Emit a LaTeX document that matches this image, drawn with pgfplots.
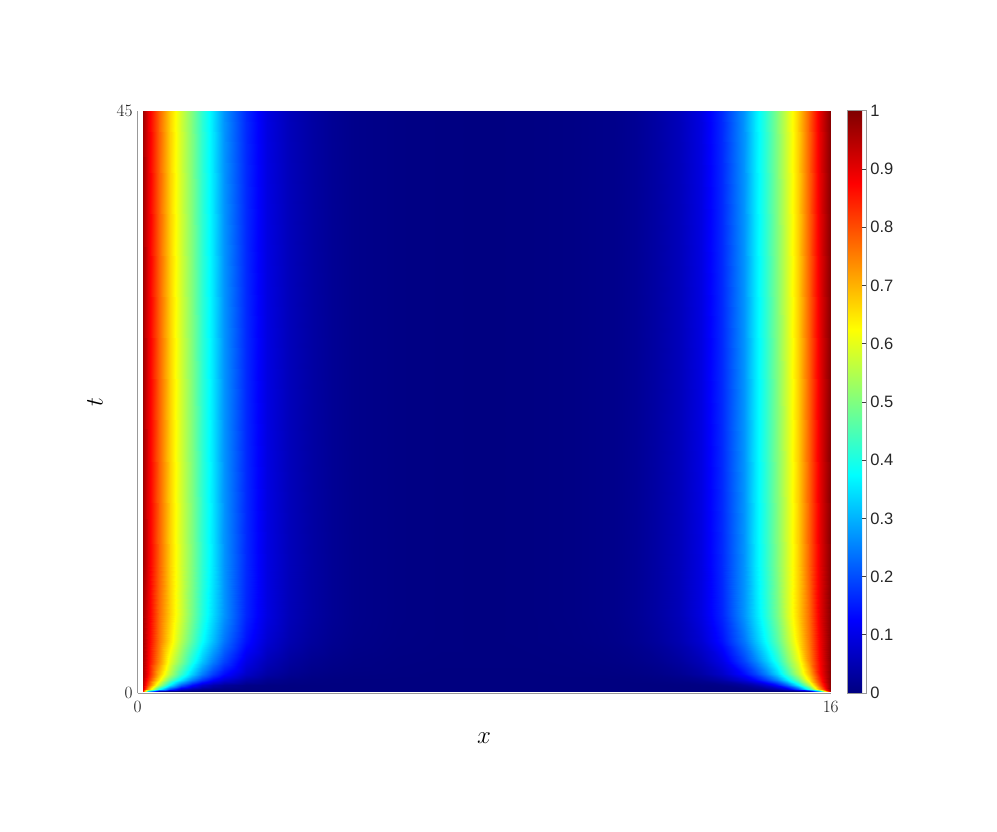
\documentclass[border=0pt]{standalone}
\usepackage{fontspec}
\usepackage{pgfplots}
\pgfplotsset{compat=1.18}
\newfontfamily\cbfont{Liberation Sans}

\begin{document}
\begin{tikzpicture}
\useasboundingbox (0,0) rectangle (997pt,831pt);
\begin{axis}[
    at={(137.5pt,138pt)}, anchor=south west,
    scale only axis, width=693.2pt, height=582.2pt,
    xmin=0, xmax=16, ymin=0, ymax=45,
    xtick={0,16}, ytick={0,45},
    axis x line*=bottom, axis y line*=left,
    axis line style={draw=black!40, line width=0.8pt},
    major tick length=0pt,
    tick label style={font=\fontsize{19}{19}\selectfont, text=black!90},
    xticklabel style={yshift=-5pt},
    yticklabel style={xshift=-1.5pt},
    xlabel={$x$}, ylabel={$t$},
    label style={font=\fontsize{24}{24}\selectfont},
    xlabel style={at={(axis description cs:0.5,-0.0864)}, anchor=base},
    ylabel style={at={(axis description cs:-0.0502,0.5)}, anchor=base},
    colormap/jet,
    point meta min=0, point meta max=1,
    colorbar,
    colorbar style={
        at={(parent axis.north east)}, anchor=north west, xshift=8.6pt,
        width=19pt,
        ytick={0,0.1,0.2,0.3,0.4,0.5,0.6,0.7,0.8,0.9,1},
        ytick pos=right, yticklabel pos=right,
        tick align=inside, major tick length=5pt,
        tick style={draw=black!75, line width=0.6pt},
        axis line style={draw=black!40, line width=0.8pt},
        yticklabel style={font=\cbfont\fontsize{16.5}{16.5}\selectfont, text=black!85,
            /pgf/number format/assume math mode=true},
    },
]
% u(x,t): one scanline per t, x from 0.125 to 16
\addplot[surf, shader=interp, mesh/cols=35, point meta=\thisrow{u}]
  table[row sep=\\, x=x, y=t] {
x t u\\
0.125 0.15 0.85\\ 0.25 0.15 0.35\\ 0.5 0.15 0.05\\ 0.75 0.15 0.008\\ 1 0.15 0.001\\ 1.25 0.15 0\\ 1.5 0.15 0\\ 1.75 0.15 0\\ 2 0.15 0\\ 2.5 0.15 0\\ 3 0.15 0\\ 3.5 0.15 0\\ 4 0.15 0\\ 4.5 0.15 0\\ 5 0.15 0\\ 6 0.15 0\\ 7 0.15 0\\ 8 0.15 0\\
9 0.15 0\\ 10 0.15 0\\ 11 0.15 0\\ 11.5 0.15 0\\ 12 0.15 0\\ 12.5 0.15 0\\ 13 0.15 0\\ 13.5 0.15 0\\ 14 0.15 0\\ 14.25 0.15 0\\ 14.5 0.15 0\\ 14.75 0.15 0\\ 15 0.15 0.001\\ 15.25 0.15 0.008\\ 15.5 0.15 0.05\\ 15.75 0.15 0.35\\ 16 0.15 1\\
0.125 0.3 0.92\\ 0.25 0.3 0.72\\ 0.5 0.3 0.40\\ 0.75 0.3 0.20\\ 1 0.3 0.09\\ 1.25 0.3 0.045\\ 1.5 0.3 0.022\\ 1.75 0.3 0.011\\ 2 0.3 0.006\\ 2.5 0.3 0.002\\ 3 0.3 0.001\\ 3.5 0.3 0\\ 4 0.3 0\\ 4.5 0.3 0\\ 5 0.3 0\\ 6 0.3 0\\ 7 0.3 0\\ 8 0.3 0\\
9 0.3 0\\ 10 0.3 0\\ 11 0.3 0\\ 11.5 0.3 0\\ 12 0.3 0\\ 12.5 0.3 0\\ 13 0.3 0.001\\ 13.5 0.3 0.002\\ 14 0.3 0.006\\ 14.25 0.3 0.011\\ 14.5 0.3 0.022\\ 14.75 0.3 0.045\\ 15 0.3 0.09\\ 15.25 0.3 0.20\\ 15.5 0.3 0.40\\ 15.75 0.3 0.72\\ 16 0.3 1\\
0.125 0.6 0.94\\ 0.25 0.6 0.80\\ 0.5 0.6 0.55\\ 0.75 0.6 0.36\\ 1 0.6 0.22\\ 1.25 0.6 0.135\\ 1.5 0.6 0.08\\ 1.75 0.6 0.045\\ 2 0.6 0.025\\ 2.5 0.6 0.008\\ 3 0.6 0.003\\ 3.5 0.6 0.001\\ 4 0.6 0\\ 4.5 0.6 0\\ 5 0.6 0\\ 6 0.6 0\\ 7 0.6 0\\ 8 0.6 0\\
9 0.6 0\\ 10 0.6 0\\ 11 0.6 0\\ 11.5 0.6 0\\ 12 0.6 0\\ 12.5 0.6 0.001\\ 13 0.6 0.003\\ 13.5 0.6 0.008\\ 14 0.6 0.025\\ 14.25 0.6 0.045\\ 14.5 0.6 0.08\\ 14.75 0.6 0.135\\ 15 0.6 0.22\\ 15.25 0.6 0.36\\ 15.5 0.6 0.55\\ 15.75 0.6 0.80\\ 16 0.6 1\\
0.125 1 0.95\\ 0.25 1 0.84\\ 0.5 1 0.64\\ 0.75 1 0.47\\ 1 1 0.35\\ 1.25 1 0.25\\ 1.5 1 0.18\\ 1.75 1 0.125\\ 2 1 0.085\\ 2.5 1 0.038\\ 3 1 0.016\\ 3.5 1 0.007\\ 4 1 0.003\\ 4.5 1 0.001\\ 5 1 0\\ 6 1 0\\ 7 1 0\\ 8 1 0\\
9 1 0\\ 10 1 0\\ 11 1 0\\ 11.5 1 0.001\\ 12 1 0.003\\ 12.5 1 0.007\\ 13 1 0.016\\ 13.5 1 0.038\\ 14 1 0.085\\ 14.25 1 0.125\\ 14.5 1 0.18\\ 14.75 1 0.25\\ 15 1 0.35\\ 15.25 1 0.47\\ 15.5 1 0.64\\ 15.75 1 0.84\\ 16 1 1\\
0.125 1.5 0.96\\ 0.25 1.5 0.87\\ 0.5 1.5 0.69\\ 0.75 1.5 0.55\\ 1 1.5 0.43\\ 1.25 1.5 0.33\\ 1.5 1.5 0.25\\ 1.75 1.5 0.185\\ 2 1.5 0.135\\ 2.5 1.5 0.07\\ 3 1.5 0.035\\ 3.5 1.5 0.017\\ 4 1.5 0.008\\ 4.5 1.5 0.004\\ 5 1.5 0.002\\ 6 1.5 0.001\\ 7 1.5 0\\ 8 1.5 0\\
9 1.5 0\\ 10 1.5 0.001\\ 11 1.5 0.002\\ 11.5 1.5 0.004\\ 12 1.5 0.008\\ 12.5 1.5 0.017\\ 13 1.5 0.035\\ 13.5 1.5 0.07\\ 14 1.5 0.135\\ 14.25 1.5 0.185\\ 14.5 1.5 0.25\\ 14.75 1.5 0.33\\ 15 1.5 0.43\\ 15.25 1.5 0.55\\ 15.5 1.5 0.69\\ 15.75 1.5 0.87\\ 16 1.5 1\\
0.125 2.5 0.965\\ 0.25 2.5 0.88\\ 0.5 2.5 0.74\\ 0.75 2.5 0.60\\ 1 2.5 0.50\\ 1.25 2.5 0.40\\ 1.5 2.5 0.32\\ 1.75 2.5 0.25\\ 2 2.5 0.19\\ 2.5 2.5 0.10\\ 3 2.5 0.055\\ 3.5 2.5 0.03\\ 4 2.5 0.016\\ 4.5 2.5 0.009\\ 5 2.5 0.005\\ 6 2.5 0.002\\ 7 2.5 0.001\\ 8 2.5 0.001\\
9 2.5 0.001\\ 10 2.5 0.002\\ 11 2.5 0.005\\ 11.5 2.5 0.009\\ 12 2.5 0.016\\ 12.5 2.5 0.03\\ 13 2.5 0.055\\ 13.5 2.5 0.10\\ 14 2.5 0.19\\ 14.25 2.5 0.25\\ 14.5 2.5 0.32\\ 14.75 2.5 0.40\\ 15 2.5 0.50\\ 15.25 2.5 0.60\\ 15.5 2.5 0.74\\ 15.75 2.5 0.88\\ 16 2.5 1\\
0.125 4 0.97\\ 0.25 4 0.89\\ 0.5 4 0.76\\ 0.75 4 0.65\\ 1 4 0.55\\ 1.25 4 0.46\\ 1.5 4 0.38\\ 1.75 4 0.31\\ 2 4 0.24\\ 2.5 4 0.14\\ 3 4 0.08\\ 3.5 4 0.047\\ 4 4 0.028\\ 4.5 4 0.016\\ 5 4 0.009\\ 6 4 0.004\\ 7 4 0.002\\ 8 4 0.001\\
9 4 0.002\\ 10 4 0.004\\ 11 4 0.009\\ 11.5 4 0.016\\ 12 4 0.028\\ 12.5 4 0.047\\ 13 4 0.08\\ 13.5 4 0.14\\ 14 4 0.24\\ 14.25 4 0.31\\ 14.5 4 0.38\\ 14.75 4 0.46\\ 15 4 0.55\\ 15.25 4 0.65\\ 15.5 4 0.76\\ 15.75 4 0.89\\ 16 4 1\\
0.125 6 0.97\\ 0.25 6 0.90\\ 0.5 6 0.77\\ 0.75 6 0.67\\ 1 6 0.58\\ 1.25 6 0.49\\ 1.5 6 0.41\\ 1.75 6 0.34\\ 2 6 0.27\\ 2.5 6 0.16\\ 3 6 0.095\\ 3.5 6 0.055\\ 4 6 0.034\\ 4.5 6 0.02\\ 5 6 0.011\\ 6 6 0.005\\ 7 6 0.002\\ 8 6 0.001\\
9 6 0.002\\ 10 6 0.005\\ 11 6 0.011\\ 11.5 6 0.02\\ 12 6 0.034\\ 12.5 6 0.055\\ 13 6 0.095\\ 13.5 6 0.16\\ 14 6 0.27\\ 14.25 6 0.34\\ 14.5 6 0.41\\ 14.75 6 0.49\\ 15 6 0.58\\ 15.25 6 0.67\\ 15.5 6 0.77\\ 15.75 6 0.90\\ 16 6 1\\
0.125 10 0.97\\ 0.25 10 0.90\\ 0.5 10 0.78\\ 0.75 10 0.67\\ 1 10 0.58\\ 1.25 10 0.50\\ 1.5 10 0.42\\ 1.75 10 0.35\\ 2 10 0.27\\ 2.5 10 0.165\\ 3 10 0.095\\ 3.5 10 0.057\\ 4 10 0.035\\ 4.5 10 0.02\\ 5 10 0.011\\ 6 10 0.005\\ 7 10 0.002\\ 8 10 0.001\\
9 10 0.002\\ 10 10 0.005\\ 11 10 0.011\\ 11.5 10 0.02\\ 12 10 0.035\\ 12.5 10 0.057\\ 13 10 0.095\\ 13.5 10 0.165\\ 14 10 0.27\\ 14.25 10 0.35\\ 14.5 10 0.42\\ 14.75 10 0.50\\ 15 10 0.58\\ 15.25 10 0.67\\ 15.5 10 0.78\\ 15.75 10 0.90\\ 16 10 1\\
0.125 45 0.97\\ 0.25 45 0.90\\ 0.5 45 0.78\\ 0.75 45 0.67\\ 1 45 0.58\\ 1.25 45 0.50\\ 1.5 45 0.42\\ 1.75 45 0.35\\ 2 45 0.27\\ 2.5 45 0.165\\ 3 45 0.095\\ 3.5 45 0.057\\ 4 45 0.035\\ 4.5 45 0.02\\ 5 45 0.011\\ 6 45 0.005\\ 7 45 0.002\\ 8 45 0.001\\
9 45 0.002\\ 10 45 0.005\\ 11 45 0.011\\ 11.5 45 0.02\\ 12 45 0.035\\ 12.5 45 0.057\\ 13 45 0.095\\ 13.5 45 0.165\\ 14 45 0.27\\ 14.25 45 0.35\\ 14.5 45 0.42\\ 14.75 45 0.50\\ 15 45 0.58\\ 15.25 45 0.67\\ 15.5 45 0.78\\ 15.75 45 0.90\\ 16 45 1\\
};
\end{axis}
\end{tikzpicture}
\end{document}
